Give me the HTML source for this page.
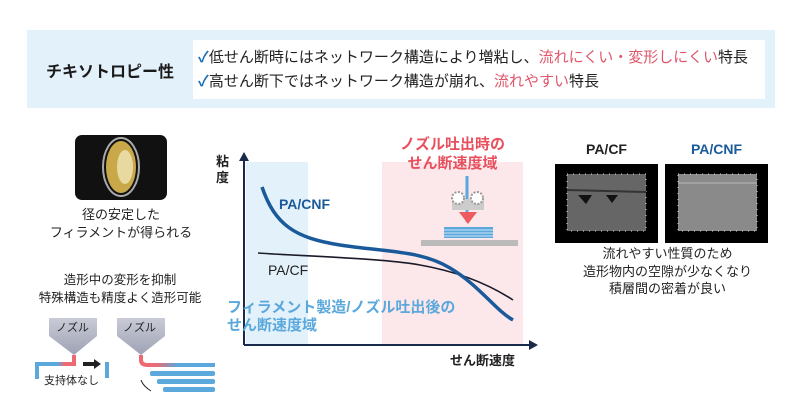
<!DOCTYPE html>
<html><head><meta charset="utf-8"><style>
body{margin:0;width:800px;height:420px;background:#fff;font-family:"Liberation Sans","Noto Sans CJK JP",sans-serif;position:relative;overflow:hidden}
.a{position:absolute;white-space:nowrap}
</style></head><body>
<div class="a" style="left:27px;top:30px;width:748px;height:78px;background:#e3f1fb"></div>
<div class="a" style="left:193px;top:40px;width:572px;height:59px;background:#fff"></div>
<div class="a" style="left:46px;top:58px;font-size:16px;font-weight:bold;color:#1a1a1a">チキソトロピー性</div>
<div class="a" style="left:198px;top:46px;font-size:15px;color:#222;line-height:24px"><span style="color:#1a6fb5;font-weight:bold">✓</span>低せん断時にはネットワーク構造により増粘し、<span style="color:#e0566a">流れにくい・変形しにくい</span>特長<br><span style="color:#1a6fb5;font-weight:bold">✓</span>高せん断下ではネットワーク構造が崩れ、<span style="color:#e0566a">流れやすい</span>特長</div>

<svg class="a" style="left:0;top:0" width="800" height="420">
<defs>
<linearGradient id="g1" x1="0" x2="1"><stop offset="0" stop-color="#5aa8dc"/><stop offset=".55" stop-color="#5aa8dc"/><stop offset=".75" stop-color="#ee6a72"/></linearGradient>
<linearGradient id="g2" x1="0" x2="1"><stop offset="0" stop-color="#ee6a72"/><stop offset=".2" stop-color="#ee6a72"/><stop offset=".5" stop-color="#5aa8dc"/></linearGradient>
<linearGradient id="nz" x1="0" x2="0" y1="0" y2="1"><stop offset="0" stop-color="#c9cbd6"/><stop offset="1" stop-color="#9ea2b4"/></linearGradient>
</defs>
<rect x="75" y="135" width="92" height="65" rx="7" fill="#111"/>
<ellipse cx="121" cy="167" rx="18" ry="29" fill="none" stroke="#aaa" stroke-width="2"/>
<ellipse cx="121" cy="167" rx="15" ry="26" fill="#c9a84a"/>
<ellipse cx="125" cy="167" rx="8" ry="17" fill="#e8d9a0"/>
<!-- chart -->
<rect x="246" y="162" width="62" height="183" fill="#e3f1fb"/>
<rect x="382" y="162" width="141" height="183" fill="#fce8ea"/>
<line x1="244" y1="345" x2="244" y2="158" stroke="#1a2a4a" stroke-width="2"/>
<polygon points="244,152 239,161 249,161" fill="#1a2a4a"/>
<line x1="244" y1="345" x2="532" y2="345" stroke="#1a2a4a" stroke-width="2"/>
<polygon points="538,345 529,340 529,350" fill="#1a2a4a"/>
<path d="M258,253 C300,256 380,258 420,265 S490,285 513,300" fill="none" stroke="#1a1a2a" stroke-width="1.6"/>
<path d="M262,187 C275,225 295,238 340,245 S420,250 450,268 S495,310 513,320" fill="none" stroke="#1a5a9a" stroke-width="3.5"/>
<line x1="467" y1="176" x2="467" y2="222" stroke="#5aa8dc" stroke-width="3"/>
<rect x="452" y="199" width="32" height="11" fill="#ccc"/>
<circle cx="458" cy="198" r="6" fill="#fff" stroke="#999" stroke-width="2" stroke-dasharray="2 1.5"/>
<circle cx="477" cy="198" r="6" fill="#fff" stroke="#999" stroke-width="2" stroke-dasharray="2 1.5"/>
<polygon points="459,212 477,212 468,224" fill="#ee5a60"/>
<rect x="444" y="227" width="49" height="11" fill="#5aa8dc"/>
<line x1="444" y1="230" x2="493" y2="230" stroke="#cfe6f7" stroke-width="1"/>
<line x1="444" y1="233" x2="493" y2="233" stroke="#cfe6f7" stroke-width="1"/>
<line x1="444" y1="236" x2="493" y2="236" stroke="#cfe6f7" stroke-width="1"/>
<rect x="421" y="240" width="97" height="6" fill="#bbb"/>
<!-- right images -->
<rect x="555" y="164" width="103" height="79" fill="#000"/>
<rect x="567" y="174" width="79" height="57" fill="#666"/>
<rect x="567" y="174" width="79" height="57" fill="none" stroke="#ddd" stroke-dasharray="1 5"/>
<line x1="567" y1="190" x2="646" y2="192" stroke="#333" stroke-width="2"/>
<polygon points="578,195 592,195 586,204" fill="#111"/>
<polygon points="606,195 618,195 612,203" fill="#111"/>
<rect x="665" y="164" width="103" height="79" fill="#000"/>
<rect x="678" y="174" width="79" height="57" fill="#8a8a8a"/>
<rect x="678" y="174" width="79" height="57" fill="none" stroke="#ddd" stroke-dasharray="1 5"/>
<line x1="678" y1="183" x2="757" y2="183" stroke="#bbb" stroke-width="1"/>
<!-- nozzles -->
<polygon points="49,318 97,318 97,336 74,355 49,336" fill="url(#nz)"/>
<polygon points="117,318 165,318 165,336 141,355 117,336" fill="url(#nz)"/>
<path d="M37,379 V364 H74 V355" fill="none" stroke="url(#g1)" stroke-width="4"/>
<line x1="107" y1="362" x2="107" y2="378" stroke="#5aa8dc" stroke-width="4"/>
<line x1="83" y1="364" x2="95" y2="364" stroke="#222" stroke-width="4"/>
<polygon points="101,364 94,359 94,369" fill="#222"/>
<path d="M141,355 V360 Q141,365 148,365 H215" fill="none" stroke="url(#g2)" stroke-width="4"/>
<rect x="150" y="371" width="65" height="5" rx="2" fill="#5aa8dc"/>
<rect x="157" y="379" width="58" height="5" rx="2" fill="#5aa8dc"/>
<rect x="163" y="387" width="52" height="5" rx="2" fill="#5aa8dc"/>
<path d="M151,391 Q143,386 141,380" fill="none" stroke="#222" stroke-width="1"/>
</svg>

<div class="a" style="left:40px;top:206px;width:162px;text-align:center;font-size:13px;line-height:18px;color:#222">径の安定した<br>フィラメントが得られる</div>
<div class="a" style="left:20px;top:271px;width:200px;text-align:center;font-size:12.5px;line-height:18px;color:#222">造形中の変形を抑制<br>特殊構造も精度よく造形可能</div>
<div class="a" style="left:56px;top:319px;font-size:11px;color:#222">ノズル</div>
<div class="a" style="left:123px;top:319px;font-size:11px;color:#222">ノズル</div>
<div class="a" style="left:44px;top:372px;font-size:11px;color:#222">支持体なし</div>

<div class="a" style="left:216px;top:154px;font-size:13px;font-weight:bold;line-height:16px;color:#222">粘<br>度</div>
<div class="a" style="left:279px;top:196px;font-size:14px;font-weight:bold;color:#1a5a9a">PA/CNF</div>
<div class="a" style="left:268px;top:262px;font-size:14px;color:#222">PA/CF</div>
<div class="a" style="left:227px;top:299px;font-size:15px;font-weight:bold;line-height:18px;color:#5aa8dc">フィラメント製造/ノズル吐出後の<br>せん断速度域</div>
<div class="a" style="left:385px;top:135px;width:135px;text-align:center;font-size:15px;font-weight:bold;line-height:19px;color:#e8505e">ノズル吐出時の<br>せん断速度域</div>
<div class="a" style="left:450px;top:350px;font-size:13px;font-weight:bold;color:#222">せん断速度</div>

<div class="a" style="left:555px;top:141px;width:103px;text-align:center;font-size:14px;font-weight:bold;color:#222">PA/CF</div>
<div class="a" style="left:665px;top:141px;width:103px;text-align:center;font-size:14px;font-weight:bold;color:#1a5a9a">PA/CNF</div>
<div class="a" style="left:560px;top:245px;width:215px;text-align:center;font-size:13px;line-height:17.5px;color:#222">流れやすい性質のため<br>造形物内の空隙が少なくなり<br>積層間の密着が良い</div>
</body></html>
